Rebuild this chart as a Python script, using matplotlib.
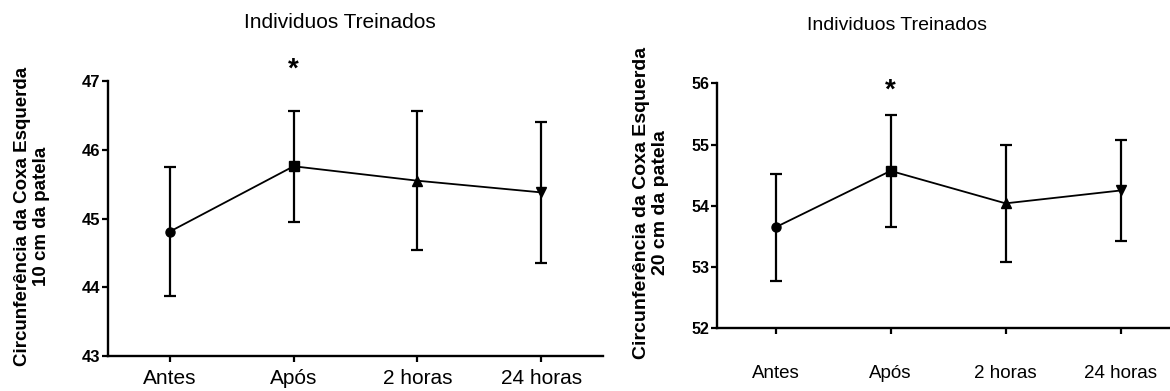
import matplotlib
matplotlib.use('Agg')
import matplotlib.pyplot as plt
import numpy as np

plt.rcParams['font.family'] = ['Liberation Sans', 'DejaVu Sans']

# data
momentos = ['Antes', 'Após', '2 horas', '24 horas']
marcadores = ['o', 's', '^', 'v']
titulo = 'Individuos Treinados'

media_10 = [44.81, 45.76, 45.55, 45.38]
erro_10 = [0.94, 0.81, 1.01, 1.03]
media_20 = [53.65, 54.57, 54.04, 54.25]
erro_20 = [0.87, 0.92, 0.95, 0.83]

ylabel_10 = 'Circunferência da Coxa Esquerda\n10 cm da patela'
ylabel_20 = 'Circunferência da Coxa Esquerda\n20 cm da patela'

fig = plt.figure(figsize=(11.7, 3.91), dpi=100)

def painel(rect, medias, erros, ylim, yticks, xlim, xlab_pad, star_y, fs_x, fs_y):
    ax = fig.add_axes(rect)
    x = np.arange(len(momentos))
    ax.plot(x, medias, color='black', lw=1.3, zorder=2)
    for xi, m, e, mk in zip(x, medias, erros, marcadores):
        ax.errorbar(xi, m, yerr=e, fmt=mk, color='black', ms=6.5,
                    elinewidth=1.6, capsize=4, capthick=1.6, zorder=3)
    ax.text(1, star_y, '*', ha='center', va='center', fontsize=20,
            fontweight='bold', clip_on=False)
    ax.set_xlim(*xlim)
    ax.set_ylim(*ylim)
    ax.set_yticks(yticks)
    ax.set_xticks(x)
    ax.set_xticklabels(momentos, fontsize=fs_x)
    for lab in ax.get_yticklabels():
        lab.set_fontweight('bold')
        lab.set_fontsize(fs_y)
    ax.spines['top'].set_visible(False)
    ax.spines['right'].set_visible(False)
    ax.spines['left'].set_linewidth(1.7)
    ax.spines['bottom'].set_linewidth(1.7)
    ax.tick_params(axis='both', direction='out', length=4.5, width=1.6)
    ax.tick_params(axis='y', pad=1)
    ax.tick_params(axis='x', pad=xlab_pad)
    return ax

ax1 = painel([0.0923, 0.0895, 0.4231, 0.7033], media_10, erro_10,
             (43, 47), [43, 44, 45, 46, 47], (-0.5, 3.5), 5, 47.17, 15, 12)
ax2 = painel([0.6128, 0.1603, 0.3872, 0.6267], media_20, erro_20,
             (52, 56), [52, 53, 54, 55, 56], (-0.51, 3.43), 22, 55.88, 13.5, 11.5)

fig.text(340 / 1170, 1 - 23 / 391, titulo, ha='center', va='center', fontsize=15)
fig.text(897 / 1170, 1 - 25 / 391, titulo, ha='center', va='center', fontsize=14)

fig.text(32 / 1170, 1 - 216 / 391, ylabel_10, rotation=90, ha='center', va='center',
         multialignment='center', fontsize=13.5, fontweight='bold', linespacing=1.15)
fig.text(651 / 1170, 1 - 203 / 391, ylabel_20, rotation=90, ha='center', va='center',
         multialignment='center', fontsize=14, fontweight='bold', linespacing=1.15)

fig.savefig('out.png', dpi=100)
